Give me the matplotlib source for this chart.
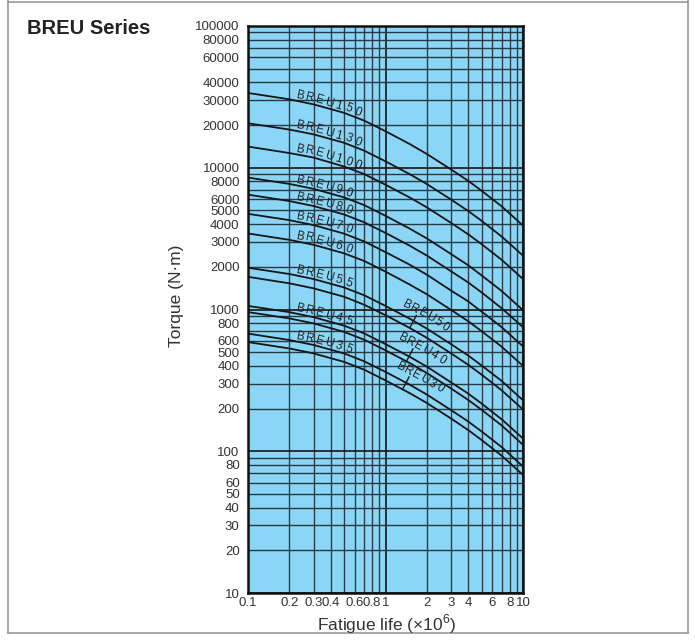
import numpy as np
import matplotlib.pyplot as plt
from matplotlib.lines import Line2D
from matplotlib.ticker import FixedLocator, NullFormatter

plt.rcParams['font.family'] = ['Liberation Sans', 'DejaVu Sans']
plt.rcParams['mathtext.fontset'] = 'custom'
plt.rcParams['mathtext.rm'] = 'Liberation Sans'

# fatigue life (x10^6) and torque (N.m)
life = [0.1, 0.2, 0.3, 0.5, 0.7, 1, 1.5, 2, 3, 4, 5, 7, 10]
breu150 = [33700, 30400, 28000, 24400, 21500, 18100, 14700, 12500, 9720, 8080, 6880, 5340, 3910]
breu130 = [20600, 18600, 17200, 15000, 13200, 11100, 9010, 7670, 5960, 4950, 4220, 3270, 2400]
breu100 = [14100, 12700, 11800, 10200, 9020, 7590, 6170, 5250, 4080, 3390, 2890, 2240, 1640]
breu90 = [8530, 7690, 7100, 6180, 5450, 4580, 3720, 3170, 2460, 2050, 1740, 1350, 990]
breu80 = [6460, 5820, 5370, 4680, 4120, 3470, 2820, 2400, 1860, 1550, 1320, 1020, 750]
breu70 = [4730, 4270, 3940, 3430, 3020, 2540, 2070, 1760, 1360, 1140, 966, 750, 549]
breu60 = [3440, 3100, 2860, 2490, 2200, 1850, 1500, 1280, 993, 826, 703, 546, 400]
breu55 = [1970, 1780, 1640, 1430, 1260, 1060, 861, 733, 569, 473, 403, 313, 229]
breu50 = [1700, 1530, 1410, 1230, 1080, 912, 741, 631, 490, 407, 347, 269, 197]
breu45 = [1060, 958, 883, 769, 678, 570, 464, 395, 306, 255, 217, 168, 123]
breu40 = [959, 865, 798, 695, 612, 515, 419, 356, 277, 230, 196, 152, 111]
breu35 = [676, 609, 562, 490, 431, 363, 295, 251, 195, 162, 138, 107, 78]
breu30 = [589, 531, 490, 427, 376, 316, 257, 219, 170, 141, 120, 93, 68]

curves = [('BREU150', breu150), ('BREU130', breu130), ('BREU100', breu100),
          ('BREU90', breu90), ('BREU80', breu80), ('BREU70', breu70),
          ('BREU60', breu60), ('BREU55', breu55), ('BREU50', breu50),
          ('BREU45', breu45), ('BREU40', breu40), ('BREU35', breu35),
          ('BREU30', breu30)]

xtick_vals = [0.1, 0.2, 0.3, 0.4, 0.6, 0.8, 1, 2, 3, 4, 6, 8, 10]
xtick_labels = ['0.1', '0.2', '0.3', '0.4', '0.6', '0.8', '1', '2', '3', '4', '6', '8', '10']
ytick_vals = [10, 20, 30, 40, 50, 60, 80, 100, 200, 300, 400, 500, 600, 800,
              1000, 2000, 3000, 4000, 5000, 6000, 8000, 10000, 20000, 30000,
              40000, 60000, 80000, 100000]

# labels on the right side with a leader line: (name, start x, leader x)
right_labels = {'BREU50': (1.23, 1.50), 'BREU40': (1.15, 1.42), 'BREU30': (1.11, 1.33)}

W, H = 695, 644
fig = plt.figure(figsize=(W / 100, H / 100), dpi=100)
ax = fig.add_axes([248 / W, 51 / H, 275 / W, 567 / H])
ax.set_facecolor('#8bd6f6')
ax.set_xscale('log')
ax.set_yscale('log')
ax.set_xlim(0.1, 10)
ax.set_ylim(10, 100000)

# grid
xgrid = [m * d for d in [0.1, 1] for m in range(1, 10)] + [10]
ygrid = [m * d for d in [10, 100, 1000, 10000] for m in range(1, 10)] + [100000]
for gx in xgrid:
    dec = abs(np.log10(gx) - round(np.log10(gx))) < 1e-9
    ax.axvline(gx, color='#151515' if dec else '#2c3f48', lw=1.2 if dec else 1.0, zorder=1)
for gy in ygrid:
    dec = abs(np.log10(gy) - round(np.log10(gy))) < 1e-9
    ax.axhline(gy, color='#151515' if dec else '#263840', lw=1.2 if dec else 1.0, zorder=1)

for name, vals in curves:
    ax.plot(life, vals, color='#161616', lw=1.3, zorder=3)


def text_on_curve(xs, ys, label, x0, offset, spacing, size=8.5):
    pts = ax.transData.transform(np.column_stack([xs, ys]))
    seg = np.diff(pts, axis=0)
    cum = np.concatenate([[0], np.cumsum(np.hypot(seg[:, 0], seg[:, 1]))])
    xd0 = ax.transData.transform((x0, 1))[0]
    s0 = np.interp(xd0, pts[:, 0], cum)
    inv = ax.transData.inverted()
    for i, ch in enumerate(label):
        s = s0 + i * spacing
        pa = np.array([np.interp(s - 4, cum, pts[:, 0]), np.interp(s - 4, cum, pts[:, 1])])
        pb = np.array([np.interp(s + 4, cum, pts[:, 0]), np.interp(s + 4, cum, pts[:, 1])])
        p = np.array([np.interp(s, cum, pts[:, 0]), np.interp(s, cum, pts[:, 1])])
        d = pb - pa
        ang = np.degrees(np.arctan2(d[1], d[0]))
        n = np.array([-d[1], d[0]]) / np.hypot(d[0], d[1])
        q = inv.transform(p + n * offset)
        ax.text(q[0], q[1], ch, rotation=ang, rotation_mode='anchor',
                ha='center', va='baseline', fontsize=size, color='#222222', zorder=4)


def leader(xs, ys, xl, length):
    pts = ax.transData.transform(np.column_stack([xs, ys]))
    xd = ax.transData.transform((xl, 1))[0]
    yd = np.interp(xd, pts[:, 0], pts[:, 1])
    k = np.searchsorted(pts[:, 0], xd)
    d = pts[k] - pts[k - 1]
    n = np.array([-d[1], d[0]]) / np.hypot(d[0], d[1])
    p0 = np.array([xd, yd])
    p1 = p0 + n * length
    inv = ax.transData.inverted()
    a, b = inv.transform(p0), inv.transform(p1)
    ax.plot([a[0], b[0]], [a[1], b[1]], color='#161616', lw=1.0, zorder=4)


for name, vals in curves:
    if name in right_labels:
        x0, xl = right_labels[name]
        text_on_curve(life, vals, name, x0, 16, 8.6)
        leader(life, vals, xl, 14)
    else:
        text_on_curve(life, vals, name, 0.235, 2.5, 9.8)

ax.set_xticks(xtick_vals)
ax.set_xticklabels(xtick_labels)
ax.set_yticks(ytick_vals)
ax.set_yticklabels([str(v) for v in ytick_vals])
ax.xaxis.set_minor_locator(FixedLocator([]))
ax.yaxis.set_minor_locator(FixedLocator([]))
ax.xaxis.set_minor_formatter(NullFormatter())
ax.yaxis.set_minor_formatter(NullFormatter())
ax.tick_params(which='both', length=0, labelsize=9.5, labelcolor='#333333')
ax.tick_params(axis='y', pad=6)
ax.tick_params(axis='x', pad=3)
for sp in ax.spines.values():
    sp.set_linewidth(1.8)
    sp.set_color('#111111')
    sp.set_zorder(5)

fig.text(176 / W, 1 - 296 / H, 'Torque (N·m)', rotation=90, ha='center', va='center',
         fontsize=12.5, color='#333333')
fig.text(387 / W, 1 - 624 / H, r'Fatigue life (×10$^{6}$)', ha='center', va='center',
         fontsize=12.5, color='#333333')
fig.text(27 / W, 1 - 28 / H, 'BREU Series', ha='left', va='center', fontsize=14.5,
         fontweight='bold', color='#222222')

# outer frame
fc = '#9a9a9a'
fig.add_artist(Line2D([8 / W, 8 / W], [1 - 633 / H, 1], color=fc, lw=1.2))
fig.add_artist(Line2D([688 / W, 688 / W], [1 - 633 / H, 1], color=fc, lw=1.2))
fig.add_artist(Line2D([8 / W, 688 / W], [1 - 633 / H, 1 - 633 / H], color=fc, lw=1.2))
fig.add_artist(Line2D([8 / W, 688 / W], [1 - 1.5 / H, 1 - 1.5 / H], color=fc, lw=1.2))

fig.savefig('out.png', dpi=100)
